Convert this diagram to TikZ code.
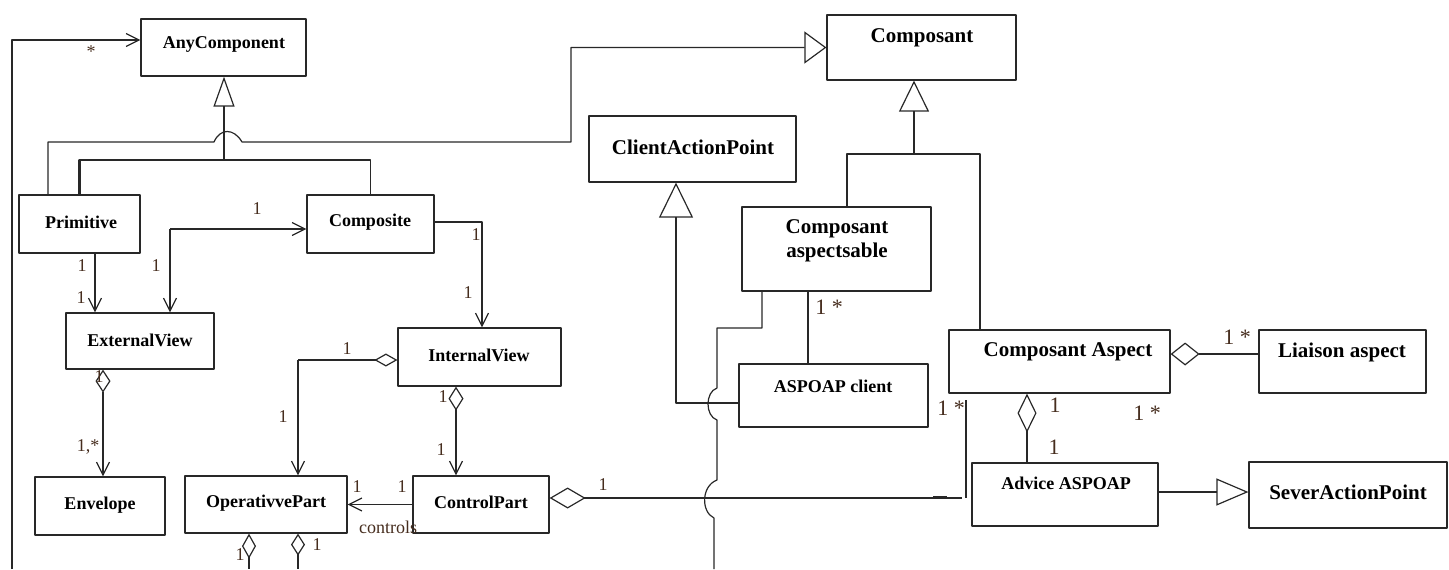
\documentclass[tikz,border=0pt]{standalone}
\usepackage{fontspec}
\setmainfont{Liberation Serif}
\usetikzlibrary{arrows.meta}
\definecolor{multcol}{RGB}{70,45,30}
\definecolor{linecol}{RGB}{40,40,40}

\begin{document}
\begin{tikzpicture}[x=0.5pt, y=-0.5pt, line join=round,
		>={Straight Barb[length=6.5pt,width=6.5pt,line width=0.6pt]},
		cls/.style={draw=linecol, line width=0.6pt, inner sep=0pt},
		nm/.style={font=\fontsize{9}{10.5}\selectfont\bfseries, inner sep=0pt},
		nmb/.style={font=\fontsize{10.5}{12}\selectfont\bfseries, inner sep=0pt, align=center},
		mult/.style={font=\fontsize{9}{10}\selectfont, text=multcol, inner sep=0pt},
		multb/.style={font=\fontsize{11}{12}\selectfont, text=multcol, inner sep=0pt},
		conn/.style={draw=linecol, line width=0.6pt},
		inh/.style 2 args={conn, -{Triangle[open,length=#1,width=#2,line width=0.6pt]}},
		agg/.style 2 args={conn, {Diamond[open,length=#1,width=#2,line width=0.6pt]}-},
		aggto/.style 2 args={conn, {Diamond[open,length=#1,width=#2,line width=0.6pt]}->}]
	\useasboundingbox (0,0) rectangle (1449,569);
	% classes
	\node[cls, minimum width=82.5pt, minimum height=28.5pt] (anyc) at (223.5,47.5) {};
	\node[cls, minimum width=94.5pt, minimum height=32.5pt] (comp) at (921.5,47.5) {};
	\node[cls, minimum width=103.5pt, minimum height=33pt] (cap) at (692.5,149) {};
	\node[cls, minimum width=94.5pt, minimum height=42pt] (casp) at (836.5,249) {};
	\node[cls, minimum width=60.5pt, minimum height=29pt] (prim) at (79.5,224) {};
	\node[cls, minimum width=63.5pt, minimum height=29pt] (compo) at (370.5,224) {};
	\node[cls, minimum width=74pt, minimum height=28pt] (ext) at (140,341) {};
	\node[cls, minimum width=81.5pt, minimum height=29pt] (intv) at (479.5,357) {};
	\node[cls, minimum width=65pt, minimum height=29pt] (env) at (100,506) {};
	\node[cls, minimum width=81pt, minimum height=28.5pt] (opp) at (266,504.5) {};
	\node[cls, minimum width=68pt, minimum height=28.5pt] (ctl) at (481,504.5) {};
	\node[cls, minimum width=94.5pt, minimum height=31.5pt] (aspc) at (833.5,395.5) {};
	\node[cls, minimum width=110.5pt, minimum height=31.5pt] (caspect) at (1059.5,361.5) {};
	\node[cls, minimum width=83.5pt, minimum height=31.5pt] (liai) at (1342.5,361.5) {};
	\node[cls, minimum width=93pt, minimum height=31.5pt] (adv) at (1065,494.5) {};
	\node[cls, minimum width=99pt, minimum height=33pt] (sev) at (1348,495) {};
	% class names
	\node[nm] (anyc-t) at (224,44) {AnyComponent};
	\node[nmb] (comp-t) at (922,38) {Composant};
	\node[nmb] (cap-t) at (693,147) {ClientActionPoint};
	\node[nmb] (casp-t) at (837,241) {Composant\\aspectsable};
	\node[nm] (prim-t) at (81,222) {Primitive};
	\node[nm] (compo-t) at (370,222) {Composite};
	\node[nm] (ext-t) at (140,340) {ExternalView};
	\node[nm] (intv-t) at (479,355) {InternalView};
	\node[nm] (env-t) at (100,505) {Envelope};
	\node[nm] (opp-t) at (266,503) {OperativvePart};
	\node[nm] (ctl-t) at (481,502) {ControlPart};
	\node[nm] (aspc-t) at (833,386) {ASPOAP client};
	\node[nmb] (caspect-t) at (1068,352) {Composant Aspect};
	\node[nmb] (liai-t) at (1342,352) {Liaison aspect};
	\node[nm] (adv-t) at (1066,483) {Advice ASPOAP};
	\node[nmb] (sev-t) at (1348,492) {SeverActionPoint};
	% left loop
	\coordinate (lft) at (12,569);
	\draw[conn,->] (lft) |- ([yshift=3.75pt]anyc.west);
	% generalisation to AnyComponent
	\coordinate (ga) at (224,160);
	\draw[inh={15pt}{10.5pt}, line width=1.2pt] (ga) -- (anyc.south -| ga);
	\draw[conn, line width=1.2pt] (prim.north) |- (ga);
	\draw[conn] (ga) -| (compo.north);
	% Primitive to Composant
	\coordinate (pc1) at (48,142);
	\coordinate (pc2) at (571,142);
	\draw[inh={11pt}{16pt}] (prim.north -| pc1) -- (pc1) -- (214,142) .. controls (220,128) and (234,128) .. (242,142) -- (pc2) -- (comp.west -| pc2) -- (comp.west);
	% Composite <-> ExternalView
	\coordinate (ce) at (170,229);
	\draw[conn,->] (ce) -- (compo.west |- ce);
	\draw[conn,->,line width=1.2pt] (ce) -- (ext.north -| ce);
	% Primitive -> ExternalView
	\coordinate (pe) at (95,0);
	\draw[conn,->] (prim.south -| pe) -- (ext.north -| pe);
	% Composite -> InternalView
	\coordinate (ci) at (482,222);
	\draw[conn,->] (compo.east |- ci) -| (intv.north -| ci);
	% ExternalView -> Envelope
	\coordinate (ee) at (103,0);
	\draw[aggto={11.5pt}{7.5pt}] (ext.south -| ee) -- (env.north -| ee);
	% InternalView -> OperativvePart
	\coordinate (io) at (298,360);
	\draw[agg={11.5pt}{6.5pt}] (intv.west |- io) -- (io);
	\draw[conn,->,line width=1.2pt] (io) -- (opp.north -| io);
	% InternalView -> ControlPart
	\coordinate (ic) at (456,0);
	\draw[aggto={12pt}{7.5pt}] (intv.south -| ic) -- (ctl.north -| ic);
	% ControlPart -> OperativvePart
	\draw[conn,->] (ctl.west) -- (opp.east);
	% OperativvePart bottom
	\coordinate (ob1) at (249,569);
	\coordinate (ob2) at (298,569);
	\draw[agg={12.5pt}{7pt}] (opp.south -| ob1) -- (ob1);
	\draw[agg={11pt}{7pt}] (opp.south -| ob2) -- (ob2);
	% ControlPart to the aspect side
	\coordinate (cs) at (962,498);
	\draw[agg={18pt}{10.5pt}] (ctl.east |- cs) -- (cs);
	\draw[conn, line width=1.5pt] (933,497) -- (947,497);
	\coordinate (cv) at (966,400);
	\draw[conn] (cv) -- (cv |- cs);
	% ClientActionPoint generalisation
	\coordinate (ac) at (676,403);
	\draw[inh={17.5pt}{17pt}] (aspc.west |- ac) -| (cap.south -| ac);
	% line from Composant aspectsable with jumps
	\coordinate (sv1) at (762,328);
	\coordinate (sv2) at (717,328);
	\coordinate (sv3) at (714,569);
	\draw[conn] (casp.south -| sv1) -- (sv1) -- (sv2) -- (717,388) .. controls (705,392) and (705,416) .. (717,420) -- (717,480) .. controls (701,486) and (701,512) .. (714,518) -- (sv3);
	% Composant aspectsable -- ASPOAP client
	\coordinate (sa) at (808,0);
	\draw[conn] (casp.south -| sa) -- (aspc.north -| sa);
	% generalisation to Composant
	\coordinate (gc) at (914,154);
	\coordinate (gcl) at (847,154);
	\coordinate (gcr) at (980,154);
	\draw[inh={15.5pt}{15pt}] (gc) -- (comp.south -| gc);
	\draw[conn] (casp.north -| gcl) -- (gcl) -- (gcr) -- (caspect.north -| gcr);
	% Composant Aspect -- Liaison aspect
	\coordinate (cl) at (0,354);
	\draw[agg={14.5pt}{11.5pt}] (caspect.east |- cl) -- (liai.west |- cl);
	% Composant Aspect -- Advice ASPOAP
	\coordinate (cad) at (1027,0);
	\draw[agg={19.5pt}{9.5pt}] (caspect.south -| cad) -- (adv.north -| cad);
	% Advice ASPOAP -> SeverActionPoint
	\coordinate (as) at (0,492);
	\draw[inh={16pt}{13.5pt}] (adv.east |- as) -- (sev.west |- as);
	% multiplicities
	\node[mult] (m0) at (91,52) {*};
	\node[mult] (m1) at (257,209) {1};
	\node[mult] (m2) at (156,266) {1};
	\node[mult] (m3) at (82,266) {1};
	\node[mult] (m4) at (81,298) {1};
	\node[mult] (m5) at (476,235) {1};
	\node[mult] (m6) at (468,293) {1};
	\node[mult] (m7) at (99,377) {1};
	\node[mult] (m8) at (88,447) {1,*};
	\node[mult] (m9) at (347,349) {1};
	\node[mult] (m10) at (283,417) {1};
	\node[mult] (m11) at (443,397) {1};
	\node[mult] (m12) at (441,450) {1};
	\node[mult] (m13) at (357,487) {1};
	\node[mult] (m14) at (402,487) {1};
	\node[mult] (ctrl) at (388,527) {controls};
	\node[mult] (m15) at (240,555) {1};
	\node[mult] (m16) at (317,545) {1};
	\node[mult] (m17) at (603,485) {1};
	\node[multb] (m18) at (829,307) {1 *};
	\node[multb] (m19) at (951,408) {1 *};
	\node[multb] (m20) at (1055,405) {1};
	\node[multb] (m21) at (1054,447) {1};
	\node[multb] (m22) at (1147,413) {1 *};
	\node[multb] (m23) at (1237,337) {1 *};
\end{tikzpicture}
\end{document}
